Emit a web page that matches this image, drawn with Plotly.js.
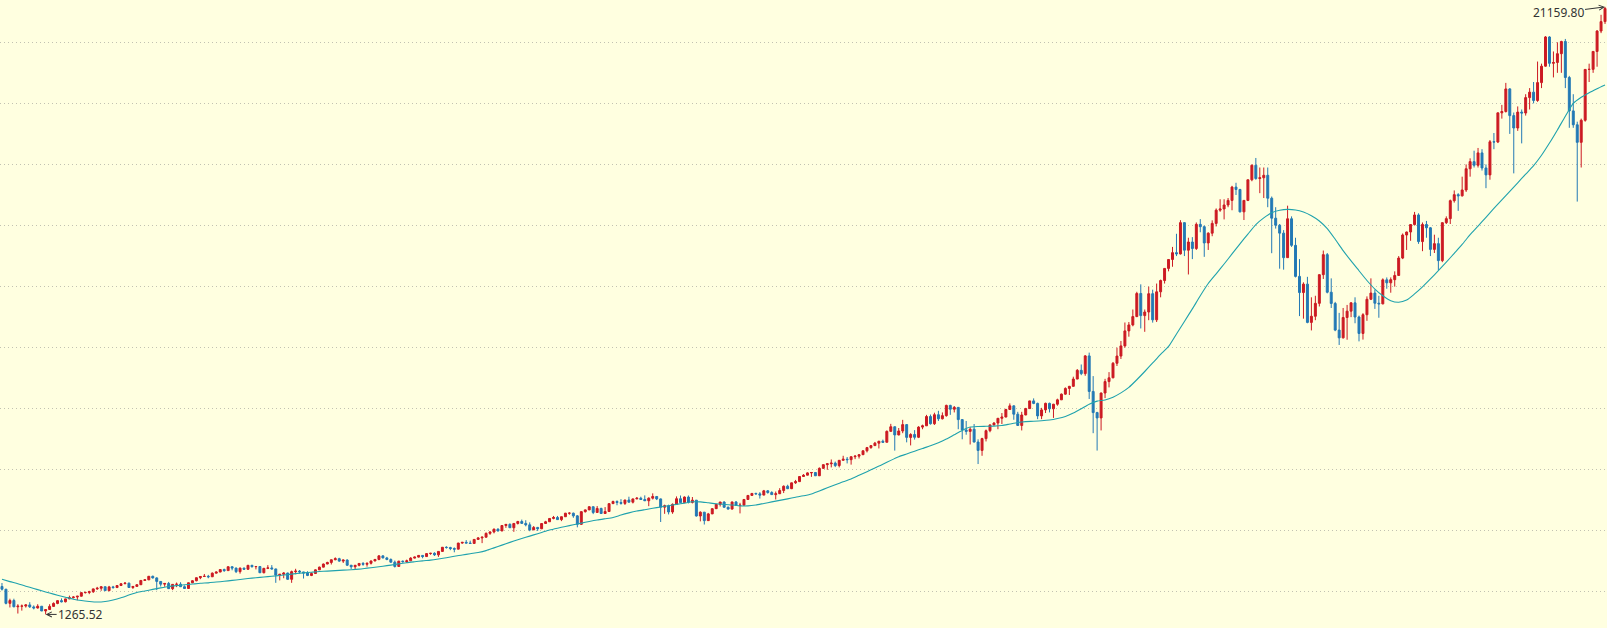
<!DOCTYPE html>
<html><head><meta charset="utf-8">
<script src="https://cdn.plot.ly/plotly-3.0.1.min.js"></script>
<style>html,body{margin:0;padding:0;background:#ffffe0;overflow:hidden}#chart{width:1607px;height:628px}</style>
</head><body><div id="chart"></div>
<script>
// Half-month periods, late Sep 2008 .. late Jul 2025 (index 0..404)
const openP = [2180,2092,1628,1721,1516,1536,1540,1577,1512,1476,1534,
1378,1426,1529,1626,1717,1680,1774,1816,1835,1862,
1979,1985,2009,2102,2122,2172,2045,2167,2145,2212,
2269,2288,2147,2183,2238,2378,2398,2515,2461,2346,
2257,2280,2109,2250,2255,2173,2114,2302,2369,2468,
2507,2514,2498,2617,2653,2735,2700,2827,2782,2667,
2781,2744,2874,2828,2835,2631,2774,2789,2756,2555,
2579,2622,2415,2667,2684,2657,2620,2541,2605,2725,
2814,2916,2967,3056,3092,3011,3046,2877,2827,2873,
2935,2908,2940,3016,3067,3183,3116,3065,2977,2836,
3010,2992,3020,3110,3142,3198,3160,3258,3268,3217,
3329,3465,3456,3423,3403,3602,3626,3602,3590,3722,
3771,3794,3920,3966,4060,4000,4177,4215,4104,4245,
4308,4246,4199,4034,4115,4070,4243,4300,4408,4440,
4370,4465,4580,4580,4493,4215,4631,4689,4792,4605,
4736,4570,4635,4893,4964,4930,4901,5011,4941,5048,
5070,5029,4987,5072,5128,5048,4777,4827,4620,4870,
5054,4927,5109,4933,5007,4488,4614,4337,4558,4728,
4870,4947,4775,4715,4948,4835,4843,5030,5162,5228,
5213,5173,5312,5257,5189,5218,5324,5463,5383,5574,
5615,5782,5825,5900,5912,5805,6048,6170,6199,6220,
6140,6312,6348,6333,6429,6448,6496,6624,6728,6793,
6874,6936,6903,7261,7411,7143,7273,7481,7063,7157,
7066,7399,7442,7746,7510,7805,7672,7775,8110,7985,
8046,7645,7306,7259,7331,6910,6635,7023,7282,7472,
7533,7688,7729,7976,8095,7822,7453,7796,8006,8258,
8175,7767,7963,8177,7999,8149,8292,8479,8665,8734,
8973,9258,9151,9731,8567,7875,7700,8515,8890,9014,
9490,9726,10059,10550,10745,11019,11775,11050,11168,11768,
10912,11830,12199,12596,12888,13112,13070,14095,13192,13460,
13247,14038,13962,13430,13749,14070,14504,14543,14673,14822,
15259,15181,14448,14823,15498,15973,15538,15565,15645,14894,
14240,14010,13751,12948,14221,13351,12335,11805,12081,10828,
11029,11452,12391,13047,11816,11448,10576,10322,10988,11196,
11468,11004,10466,11079,11585,11788,11456,11435,12222,12124,
12227,12366,12935,13689,13788,14032,14346,13474,14035,13926,
13219,13407,12851,14094,14226,14813,15011,14972,15164,15859,
16092,15973,16379,15885,15658,16742,16735,17689,17733,18473,
17599,17194,17714,17684,18189,18367,18095,18680,19218,20174,
19311,19339,19627,20027,18847,17754,17299,16724,17446,19112,
19114,19701,20369,20677];

const highP = [2295,2100,1780,1780,1600,1590,1600,1666,1560,1600,1540,
1440,1600,1660,1730,1790,1780,1880,1860,1870,1990,
2010,2040,2110,2168,2190,2180,2200,2200,2215,2295,
2327,2310,2190,2250,2380,2425,2520,2535,2480,2360,
2290,2330,2250,2310,2320,2215,2310,2385,2470,2525,
2590,2560,2640,2675,2740,2765,2840,2840,2800,2800,
2800,2885,2887,2850,2850,2790,2880,2880,2760,2580,
2650,2630,2700,2760,2720,2660,2680,2640,2740,2830,
2930,2990,3060,3134,3120,3060,3070,2880,2890,2940,
2980,2960,3030,3080,3200,3196,3150,3100,3030,3020,
3030,3060,3140,3160,3200,3210,3260,3280,3300,3330,
3470,3500,3480,3460,3610,3630,3700,3680,3730,3800,
3820,3950,3985,4070,4080,4180,4220,4247,4250,4330,
4371,4350,4280,4160,4130,4250,4330,4410,4490,4490,
4470,4590,4610,4600,4520,4640,4700,4810,4800,4814,
4760,4780,4900,4990,5000,5040,5020,5120,5060,5110,
5120,5164,5100,5230,5140,5060,4860,4860,4900,5130,
5160,5130,5160,5110,5010,4640,4620,4590,4740,4880,
4950,4970,4800,4960,4980,4920,5035,5176,5240,5250,
5270,5342,5340,5300,5290,5400,5490,5512,5580,5670,
5790,5860,5920,5930,5930,6080,6175,6220,6340,6270,
6320,6460,6420,6440,6480,6500,6630,6750,6800,6914,
6950,6990,7290,7506,7420,7370,7637,7500,7200,7300,
7430,7480,7800,7810,7870,7933,7880,8133,8130,8090,
8050,7650,7600,7400,7500,7000,7050,7320,7480,7560,
7690,7860,8000,8176,8110,7900,7900,8030,8260,8340,
8200,8030,8200,8200,8160,8330,8500,8700,8750,9050,
9300,9450,9760,9838,9070,7900,8530,8980,9200,9530,
10000,10220,10825,10840,11250,11830,12074,11250,12000,11900,
12100,12230,12600,12900,13300,13730,14175,14100,13600,13620,
14100,14210,14000,13780,14170,14560,14860,14860,14900,15300,
15400,15200,14830,15500,16000,16212,15900,15900,15900,14950,
14600,14050,13850,14650,14300,13600,12900,12140,12320,11650,
11700,12400,13181,13100,12270,11500,11140,11300,11400,11490,
11650,11050,11130,11680,12270,11900,11700,12270,12300,12300,
12500,13000,13740,13800,14050,14446,14400,14100,14150,13950,
13700,13600,14100,14300,14850,15150,15060,15600,16000,16200,
16450,16540,16500,16000,16800,17030,17700,17950,18671,18500,
17700,17900,17800,18300,18500,18700,19370,19300,20204,20200,
19700,20000,20050,20110,18900,18300,17400,17500,19120,19300,
19710,20400,20900,21159.8];

const lowP = [2050,1595,1493,1500,1295,1390,1490,1480,1431,1460,1375,
1265.52,1420,1510,1600,1660,1660,1765,1790,1730,1855,
1950,1930,1970,2070,2040,2040,2024,2110,2140,2200,
2265,2140,2100,2180,2235,2360,2390,2440,2061,2180,
2170,2100,2061,2160,2170,2100,2110,2290,2350,2420,
2490,2450,2495,2610,2650,2660,2700,2710,2620,2600,
2720,2725,2800,2740,2620,2610,2750,2740,2300,2380,
2450,2400,2300,2580,2600,2440,2520,2520,2600,2720,
2810,2910,2900,3040,2990,2950,2850,2750,2726,2840,
2860,2830,2900,3010,3040,3100,3040,2960,2800,2830,
2960,2950,3020,3100,3130,3105,3150,3220,3180,3150,
3320,3420,3370,3300,3400,3580,3600,3580,3590,3720,
3600,3790,3870,3920,3980,3990,4100,4100,3970,4210,
4240,4150,3990,4030,4000,4060,4240,4300,4380,4360,
4320,4460,4530,4430,4117,4200,4600,4680,4550,4600,
4560,4560,4630,4890,4840,4860,4850,4930,4900,5040,
5020,4980,4810,5030,5010,4292,4560,4540,4560,4860,
4920,4920,4900,4900,4470,4313,4209,4330,4550,4720,
4800,4760,4700,4700,4830,4574,4840,5030,5150,5190,
5060,5170,5220,5180,5030,5210,5240,5370,5370,5540,
5600,5780,5820,5770,5800,5800,6040,6000,6080,6090,
6080,6300,6210,6170,6350,6370,6490,6570,6690,6780,
6700,6890,6900,7250,6630,7130,7200,6900,6800,6990,
7040,7330,7440,7480,7470,7600,7650,7740,7800,7880,
7330,7000,7150,6830,6900,6190,6460,6930,7230,7450,
7330,7500,7720,7970,7640,7450,7290,7790,8000,8150,
7660,7660,7860,7880,7700,8100,8290,8460,8450,8730,
8970,9100,9080,8320,7200,6631,7290,8350,8700,9000,
9400,9630,10000,10360,10700,11000,10630,10520,10900,10820,
10840,11650,12100,12500,12650,13000,13050,13000,12397,12900,
13200,13780,12975,13200,13650,13970,14450,14200,14600,14500,
15000,14430,14180,14800,15450,15500,15060,14900,14600,13094,
13900,12587,12555,12940,13300,12300,11035,10950,10800,10565,
10900,11350,12250,11780,11300,10540,10089,10300,10260,11000,
10800,10207,10265,10880,11560,11270,10980,11420,11930,11800,
12000,12350,12900,13200,13500,14000,13400,13160,13600,13000,
13100,12544,12800,14050,14050,14750,14480,14950,15100,15600,
15900,15900,15800,15223,15500,16500,16700,17500,17700,17000,
15708,17100,16690,17600,17800,18000,18050,18500,19200,19200,
18850,19000,19000,18500,17200,17200,14784,15900,17400,18700,
19000,19200,20300,20600];

const closeP = [2092,1628,1721,1516,1536,1540,1577,1512,1476,1534,1378,
1426,1529,1626,1717,1680,1774,1816,1835,1862,1979,
1985,2009,2102,2122,2172,2045,2167,2145,2212,2269,
2288,2147,2183,2238,2378,2398,2515,2461,2346,2257,
2280,2109,2250,2255,2173,2114,2302,2369,2468,2507,
2514,2498,2617,2653,2735,2700,2827,2782,2667,2781,
2744,2874,2828,2835,2631,2774,2789,2756,2555,2579,
2622,2415,2667,2684,2657,2620,2541,2605,2725,2814,
2916,2967,3056,3092,3011,3046,2877,2827,2873,2935,
2908,2940,3016,3067,3183,3116,3065,2977,2836,3010,
2992,3020,3110,3142,3198,3160,3258,3268,3217,3329,
3465,3456,3423,3403,3602,3626,3602,3590,3722,3771,
3794,3920,3966,4060,4000,4177,4215,4104,4245,4308,
4246,4199,4034,4115,4070,4243,4300,4408,4440,4370,
4465,4580,4580,4493,4215,4631,4689,4792,4605,4736,
4570,4635,4893,4964,4930,4901,5011,4941,5048,5070,
5029,4987,5072,5128,5048,4777,4827,4620,4870,5054,
4927,5109,4933,5007,4488,4614,4337,4558,4728,4870,
4947,4775,4715,4948,4835,4843,5030,5162,5228,5213,
5173,5312,5257,5189,5218,5324,5463,5383,5574,5615,
5782,5825,5900,5912,5805,6048,6170,6199,6220,6140,
6312,6348,6333,6429,6448,6496,6624,6728,6793,6874,
6936,6903,7261,7411,7143,7273,7481,7063,7157,7066,
7399,7442,7746,7510,7805,7672,7775,8110,7985,8046,
7645,7306,7259,7331,6910,6635,7023,7282,7472,7533,
7688,7729,7976,8095,7822,7453,7796,8006,8258,8175,
7767,7963,8177,7999,8149,8292,8479,8665,8734,8973,
9258,9151,9731,8567,7875,7700,8515,8890,9014,9490,
9726,10059,10550,10745,11019,11775,11050,11168,11768,10912,
11830,12199,12596,12888,13112,13070,14095,13192,13460,13247,
14038,13962,13430,13749,14070,14504,14543,14673,14822,15259,
15181,14448,14823,15498,15973,15538,15565,15645,14894,14240,
14010,13751,12948,14221,13351,12335,11805,12081,10828,11029,
11452,12391,13047,11816,11448,10576,10322,10988,11196,11468,
11004,10466,11079,11585,11788,11456,11435,12222,12124,12227,
12366,12935,13689,13788,14032,14346,13474,14035,13926,13219,
13407,12851,14094,14226,14813,15011,14972,15164,15859,16092,
15973,16379,15885,15658,16742,16735,17689,17733,18473,17599,
17194,17714,17684,18189,18367,18095,18680,19218,20174,19311,
19339,19627,20027,18847,17754,17299,16724,17446,19112,19114,
19701,20369,20677,21108];

// moving average, one value per month (every second period)
const maLine = [2416,2340,2270,2190,2115,2040,1965,1895,1830,1765,
1720,1690,1672,1690,1740,1810,1900,1985,2035,2085,
2135,2180,2210,2235,2260,2285,2300,2325,2350,2380,
2410,2440,2465,2490,2515,2540,2570,2600,2625,2648,
2670,2685,2700,2715,2730,2750,2780,2810,2845,2880,
2920,2960,2990,3020,3045,3080,3120,3170,3210,3255,
3295,3355,3445,3535,3625,3710,3790,3870,3950,4030,
4090,4145,4200,4255,4310,4360,4400,4440,4520,4590,
4650,4695,4740,4785,4825,4870,4910,4955,4950,4920,
4890,4870,4850,4820,4820,4850,4900,4950,5000,5050,
5100,5150,5210,5310,5410,5510,5610,5700,5820,5940,
6060,6180,6310,6430,6520,6610,6700,6790,6890,7010,
7150,7290,7400,7420,7425,7430,7450,7500,7550,7580,
7590,7605,7630,7680,7750,7860,8000,8150,8250,8290,
8380,8520,8700,8950,9220,9500,9780,10040,10450,10860,
11270,11700,12100,12420,12740,13070,13400,13720,14030,14250,
14420,14500,14530,14510,14440,14320,14150,13900,13550,13180,
12840,12520,12200,11920,11700,11540,11490,11560,11760,11990,
12250,12520,12800,13090,13380,13700,13980,14270,14560,14840,
15120,15400,15680,15960,16300,16700,17130,17580,18000,18200,
18350,18480,18600];

const maxLabel = '21159.80';
const minLabel = '1265.52';

const n = closeP.length;
if (openP.length !== n || highP.length !== n || lowP.length !== n) {
  throw new Error('length mismatch ' + [openP.length, highP.length, lowP.length, n].join(','));
}
const xIdx = closeP.map((_, i) => i);
const maX = maLine.map((_, j) => 2 * j);

let iMax = 0, iMin = 0;
for (let i = 0; i < n; i++) {
  if (highP[i] > highP[iMax]) iMax = i;
  if (lowP[i] < lowP[iMin]) iMin = i;
}

const data = [
  {
    type: 'candlestick', x: xIdx, open: openP, high: highP, low: lowP, close: closeP,
    increasing: {line: {color: '#cc1a22', width: 1}, fillcolor: '#cc1a22'},
    decreasing: {line: {color: '#2379b5', width: 1}, fillcolor: '#2379b5'},
    whiskerwidth: 0, hoverinfo: 'skip', showlegend: false
  },
  {
    type: 'scatter', mode: 'lines', x: maX, y: maLine,
    line: {color: '#1fa2ad', width: 1.1, shape: 'spline', smoothing: 0.6},
    hoverinfo: 'skip', showlegend: false
  }
];

const layout = {
  width: 1607, height: 628,
  margin: {l: 0, r: 0, t: 0, b: 0, pad: 0},
  paper_bgcolor: '#ffffe0', plot_bgcolor: '#ffffe0',
  showlegend: false, boxgap: 0.3,
  xaxis: {range: [-0.5, n - 0.5], visible: false, showgrid: false, zeroline: false,
          rangeslider: {visible: false}, fixedrange: true},
  yaxis: {range: [821, 21385], tick0: 0, dtick: 2000, showticklabels: false, ticks: '',
          showgrid: true, gridcolor: '#c2c2b2', gridwidth: 1, griddash: '1px,3px',
          zeroline: false, showline: false, fixedrange: true},
  annotations: [
    {x: iMax, y: highP[iMax], xref: 'x', yref: 'y', text: maxLabel, showarrow: true,
     ax: -47, ay: 6, arrowhead: 5, arrowsize: 1, arrowwidth: 1, arrowcolor: '#333333',
     font: {family: 'Noto Sans, sans-serif', size: 12, color: '#333333'}},
    {x: iMin, y: lowP[iMin], xref: 'x', yref: 'y', text: minLabel, showarrow: true,
     ax: 35, ay: 0, arrowhead: 5, arrowsize: 1, arrowwidth: 1, arrowcolor: '#333333',
     font: {family: 'Noto Sans, sans-serif', size: 12, color: '#333333'}}
  ]
};

Plotly.newPlot('chart', data, layout, {staticPlot: true, displayModeBar: false});
</script>
</body></html>
